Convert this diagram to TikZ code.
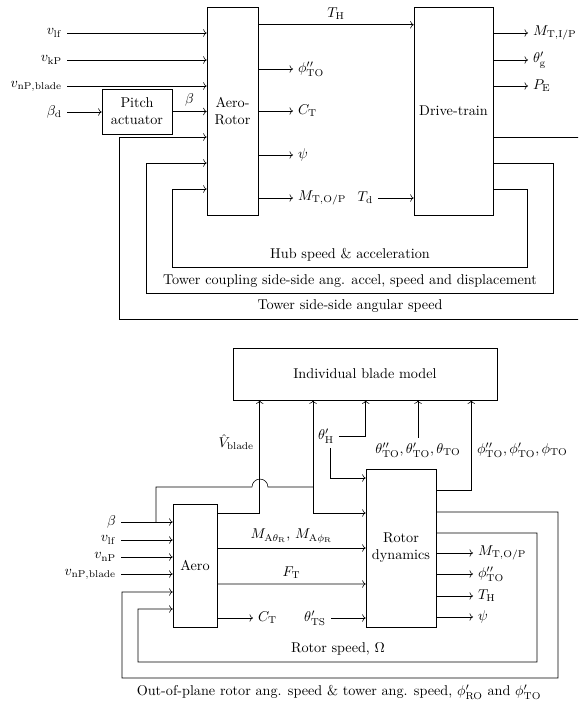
\documentclass[tikz,border=0pt]{standalone}
\usetikzlibrary{arrows.meta, positioning, calc}

\begin{document}
\begin{tikzpicture}[
  x=0.704pt, y=-0.704pt,
  blok/.style={draw, align=center, inner sep=2pt},
  arrow/.style={-To}
]
\path[use as bounding box] (0,0) rectangle (578,704);
\clip (0,0) rectangle (578,704);

% upper diagram
\node[blok, minimum width=35.9pt, minimum height=146.4pt] (aerorotor)  at (232.5,111) {Aero-\\Rotor};
\node[blok, minimum width=55.6pt, minimum height=146.4pt] (drivetrain) at (453.5,111) {Drive-train};
\node[blok, minimum width=49.3pt, minimum height=31.7pt]  (pitch)      at (137,111.5) {Pitch\\actuator};

\node[anchor=east] (vlf)   at (67,33)  {$v_{\mathrm{lf}}$};
\node[anchor=east] (vkp)   at (67,60)  {$v_{\mathrm{kP}}$};
\node[anchor=east] (vnp)   at (67,86)  {$v_{\mathrm{nP,blade}}$};
\node[anchor=east] (betad) at (67,112) {$\beta_{\mathrm{d}}$};

\node[anchor=west] (phidd) at (293,69)  {$\phi''_{\mathrm{TO}}$};
\node[anchor=west] (ct)    at (293,111) {$C_{\mathrm{T}}$};
\node[anchor=west] (psi)   at (293,155) {$\psi$};
\node[anchor=west] (mtop)  at (293,198) {$M_{\mathrm{T,O/P}}$};
\node[anchor=east] (td)    at (378,198) {$T_{\mathrm{d}}$};

\node[anchor=west] (mtip)  at (528,33)  {$M_{\mathrm{T,I/P}}$};
\node[anchor=west] (thg)   at (528,60)  {$\theta'_{\mathrm{g}}$};
\node[anchor=west] (pe)    at (528,86)  {$P_{\mathrm{E}}$};

\foreach \n in {vlf,vkp,vnp}
  \draw[arrow] (\n.east) -- (\n.east -| aerorotor.west);
\draw[arrow] (betad.east) -- (betad.east -| pitch.west);
\draw[arrow] (pitch.east) -- node[above]{$\beta$} (pitch.east -| aerorotor.west);
\draw[arrow] ($(aerorotor.north east)+(0,18)$) -- node[above]{$T_{\mathrm{H}}$} ($(drivetrain.north west)+(0,18)$);
\foreach \n in {phidd,ct,psi,mtop}
  \draw[arrow] (\n.west -| aerorotor.east) -- (\n.west);
\draw[arrow] (td.east) -- (td.east -| drivetrain.west);
\foreach \n in {mtip,thg,pe}
  \draw[arrow] (\n.west -| drivetrain.east) -- (\n.west);

\draw[arrow] ($(drivetrain.east)+(0,78)$) -| (527,267) -| (172,189) -- ($(aerorotor.west)+(0,78)$);
\draw[arrow] ($(drivetrain.east)+(0,52)$) -| (553,293) -| (146,163) -- ($(aerorotor.west)+(0,52)$);
\draw[arrow] ($(drivetrain.east)+(0,26)$) -| (600,319) -| (119,137) -- ($(aerorotor.west)+(0,26)$);

\node (hublbl)  at (350,255) {Hub speed \& acceleration};
\node (couplbl) at (350,281) {Tower coupling side-side ang. accel, speed and displacement};
\node (sslbl)   at (350,306) {Tower side-side angular speed};

% lower diagram
\node[blok, minimum width=185.9pt, minimum height=36.6pt] (blade) at (365,374)   {Individual blade model};
\node[blok, minimum width=31pt, minimum height=86.6pt]    (aero)  at (195,565.5) {Aero};
\node[blok, minimum width=49.3pt, minimum height=111.2pt] (rotor) at (401,548)   {Rotor\\dynamics};

\node[anchor=east] (beta)     at (121,522) {$\beta$};
\node[anchor=east] (vlfb)     at (121,540) {$v_{\mathrm{lf}}$};
\node[anchor=east] (vnpb)     at (121,557) {$v_{\mathrm{nP}}$};
\node[anchor=east] (vnpblade) at (121,574) {$v_{\mathrm{nP,blade}}$};

\node[anchor=east] (vhat)  at (259,442) {$\hat{V}_{\mathrm{blade}}$};
\node              (thh)   at (326,436) {$\theta'_{\mathrm{H}}$};
\node              (thto)  at (418,450) {$\theta''_{\mathrm{TO}},\theta'_{\mathrm{TO}},\theta_{\mathrm{TO}}$};
\node[anchor=west] (phito) at (472,450) {$\phi''_{\mathrm{TO}},\phi'_{\mathrm{TO}},\phi_{\mathrm{TO}}$};

\node[anchor=west] (ctb)   at (253,618) {$C_{\mathrm{T}}$};
\node[anchor=east] (thts)  at (331,618) {$\theta'_{\mathrm{TS}}$};

\node[anchor=west] (mtopb)  at (473,553) {$M_{\mathrm{T,O/P}}$};
\node[anchor=west] (phiddb) at (473,574) {$\phi''_{\mathrm{TO}}$};
\node[anchor=west] (thb)    at (473,596) {$T_{\mathrm{H}}$};
\node[anchor=west] (psib)   at (473,617) {$\psi$};

\foreach \n in {beta,vlfb,vnpb,vnpblade}
  \draw[arrow] (\n.east) -- (\n.east -| aero.west);
\coordinate (betasplit) at (156,522);
\coordinate (betajoin)  at (313,487);
\draw (betasplit) |- (252,487) arc[start angle=180, end angle=0, radius=5.6pt] -- (betajoin);
\draw[arrow] (betajoin) -- (betajoin |- blade.south);
\draw[arrow] (betajoin) |- ($(rotor.west)+(0,-35)$);

\draw[arrow] ($(aero.east)+(0,-52.5)$) -| ($(blade.south west)+(27,0)$);
\draw[arrow] (thh.east) -| (rotor.west |- blade.south);
\draw[arrow] ([xshift=3pt]thh.south) |- ($(rotor.west)+(0,-70)$);
\draw[arrow] (thto.north) -- (thto.north |- blade.south);
\draw[arrow] ($(rotor.east)+(0,-58)$) -| ($(blade.south east)+(-26,0)$);

\draw[arrow] (aero.east |- rotor.west) -- node[above]{$M_{\mathrm{A}\theta_{\mathrm{R}}}$, $M_{\mathrm{A}\phi_{\mathrm{R}}}$} (rotor.west);
\draw[arrow] ($(aero.east)+(0,18.5)$) -- node[above]{$F_{\mathrm{T}}$} ($(rotor.west)+(0,36)$);
\draw[arrow] (ctb.west -| aero.east) -- (ctb.west);
\draw[arrow] (thts.east) -- (thts.east -| rotor.west);
\foreach \n in {mtopb,phiddb,thb,psib}
  \draw[arrow] (\n.west -| rotor.east) -- (\n.west);

\draw[arrow] ($(rotor.east)+(0,-15)$) -| (537,662) -| (138,609) -- ($(aero.west)+(0,43.5)$);
\draw[arrow] ($(rotor.east)+(0,-36)$) -| (558,678) -| (122,592) -- ($(aero.west)+(0,26.5)$);

\node (rslbl)  at (338,649) {Rotor speed, $\Omega$};
\node (ooplbl) at (339,692) {Out-of-plane rotor ang. speed \& tower ang. speed, $\phi'_{\mathrm{RO}}$ and $\phi'_{\mathrm{TO}}$};
\end{tikzpicture}
\end{document}
